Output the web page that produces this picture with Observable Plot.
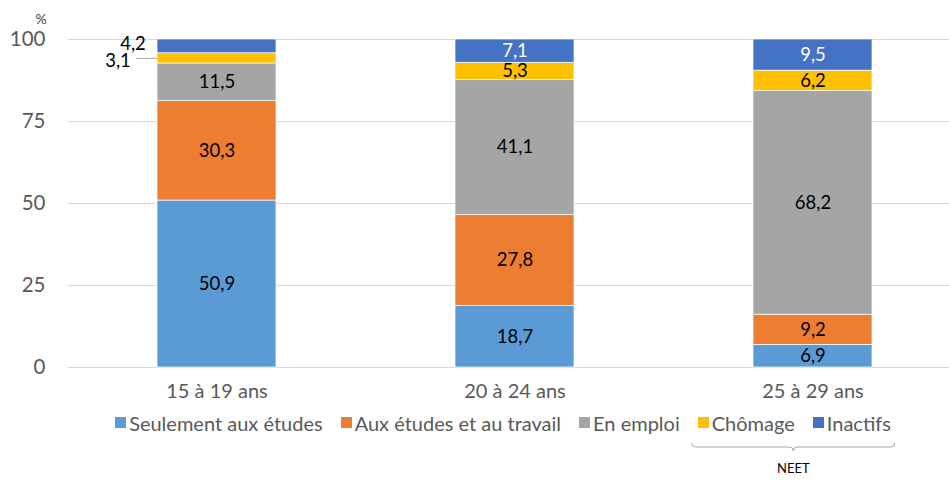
<!DOCTYPE html>
<html><head><meta charset="utf-8">
<script src="https://cdn.jsdelivr.net/npm/d3@7"></script>
<script src="https://cdn.jsdelivr.net/npm/@observablehq/plot@0.6"></script>
<style>
body{margin:0;background:#fff;font-family:Lato,"Open Sans",sans-serif;}
#wrap{width:949px;position:relative;}
#legend{display:flex;justify-content:center;gap:0;font-size:20px;color:#595959;height:25px;align-items:center;margin-left:57px;}
#legend .it{display:flex;align-items:center;margin:0 9px;}
#legend .sw{width:11px;height:11px;margin-right:3px;}
</style></head>
<body><div id="wrap"><div id="chart"></div><div id="legend"></div><svg id="brace" width="949" height="46"></svg></div>
<script>
const ageGroups = ["15 à 19 ans", "20 à 24 ans", "25 à 29 ans"];
const statuses = ["Seulement aux études", "Aux études et au travail", "En emploi", "Chômage", "Inactifs"];
const colors = ["#5B9BD5", "#ED7D31", "#A5A5A5", "#FFC000", "#4472C4"];
const valSeulement = [50.9, 18.7, 6.9];
const valAuxEtudesTravail = [30.3, 27.8, 9.2];
const valEnEmploi = [11.5, 41.1, 68.2];
const valChomage = [3.1, 5.3, 6.2];
const valInactifs = [4.2, 7.1, 9.5];
const yTicks = [0, 25, 50, 75, 100];
const neetLabel = "NEET";

const series = [valSeulement, valAuxEtudesTravail, valEnEmploi, valChomage, valInactifs];
const data = [];
statuses.forEach((s, si) => ageGroups.forEach((g, gi) => data.push({age: g, status: s, value: series[si][gi]})));
const fmt = v => v.toFixed(1).replace(".", ",");
const isOutside = d => d.age === ageGroups[0] && (d.status === "Chômage" || d.status === "Inactifs");

const chart = Plot.plot({
  width: 949, height: 410,
  marginLeft: 68, marginRight: -13, marginTop: 39, marginBottom: 43,
  style: {fontFamily: "Lato, 'Open Sans', sans-serif", background: "#fff"},
  x: {domain: ageGroups, paddingInner: 0.6, paddingOuter: 0.3, label: null},
  y: {domain: [0, 100], label: null},
  color: {domain: statuses, range: colors},
  marks: [
    Plot.ruleY(yTicks, {stroke: "#d9d9d9", strokeWidth: 1, clip: false}),
    Plot.barY(data, {x: "age", y: "value", fill: "status", z: "status", stroke: "white", strokeWidth: 0.7}),
    Plot.text(data, Plot.stackY({x: "age", y: "value", z: "status",
      text: d => isOutside(d) ? "" : fmt(d.value),
      fill: d => d.status === "Inactifs" ? "white" : "black", fontSize: 18.5})),
    Plot.text(data, Plot.stackY({x: "age", y: "value", z: "status",
      text: d => (d.age === ageGroups[0] && d.status === "Inactifs") ? fmt(d.value) : "",
      fill: "black", fontSize: 18.5, dx: -84, dy: -2})),
    Plot.text(data, Plot.stackY({x: "age", y: "value", z: "status",
      text: d => (d.age === ageGroups[0] && d.status === "Chômage") ? fmt(d.value) : "",
      fill: "black", fontSize: 18.5, dx: -99, dy: 3})),
    Plot.tickY(data, Plot.stackY({x: "age", y: "value", z: "status",
      strokeOpacity: d => (d.age === ageGroups[0] && d.status === "Chômage") ? 1 : 0,
      stroke: "#a6a6a6", dx: -21, insetRight: 98})),
    Plot.axisY(yTicks, {tickSize: 0, tickPadding: 23, fontSize: 20.5, fill: "#595959", label: null}),
    Plot.axisX({tickSize: 0, tickPadding: 16, fontSize: 20, fill: "#595959", label: null}),
    Plot.text(["%"], {frameAnchor: "top-left", dx: -33, dy: -25, fontSize: 14, fill: "#404040"})
  ]
});
document.getElementById("chart").appendChild(chart);

const leg = document.getElementById("legend");
statuses.forEach((s, i) => {
  const it = document.createElement("div"); it.className = "it";
  const sw = document.createElement("div"); sw.className = "sw"; sw.style.background = colors[i];
  const t = document.createElement("span"); t.textContent = s;
  it.appendChild(sw); it.appendChild(t); leg.appendChild(it);
});

requestAnimationFrame(() => {
  const items = leg.querySelectorAll(".it");
  const wr = document.getElementById("wrap").getBoundingClientRect();
  const a = items[3].getBoundingClientRect(), b = items[4].getBoundingClientRect();
  const x0 = a.left - wr.left - 6, x1 = b.right - wr.left + 4, xm = (x0 + x1) / 2;
  const svg = d3.select("#brace");
  svg.append("path")
    .attr("d", `M${x0},8 Q${x0},12 ${x0+4},12 L${xm-4},12 Q${xm},12 ${xm},16 Q${xm},12 ${xm+4},12 L${x1-4},12 Q${x1},12 ${x1},8`)
    .attr("fill", "none").attr("stroke", "#a6a6a6").attr("stroke-width", 1);
  svg.append("text").attr("x", xm).attr("y", 38).attr("text-anchor", "middle")
    .attr("font-size", 13).attr("font-family", "Lato, sans-serif").attr("fill", "#000").text(neetLabel);
});
</script></body></html>
